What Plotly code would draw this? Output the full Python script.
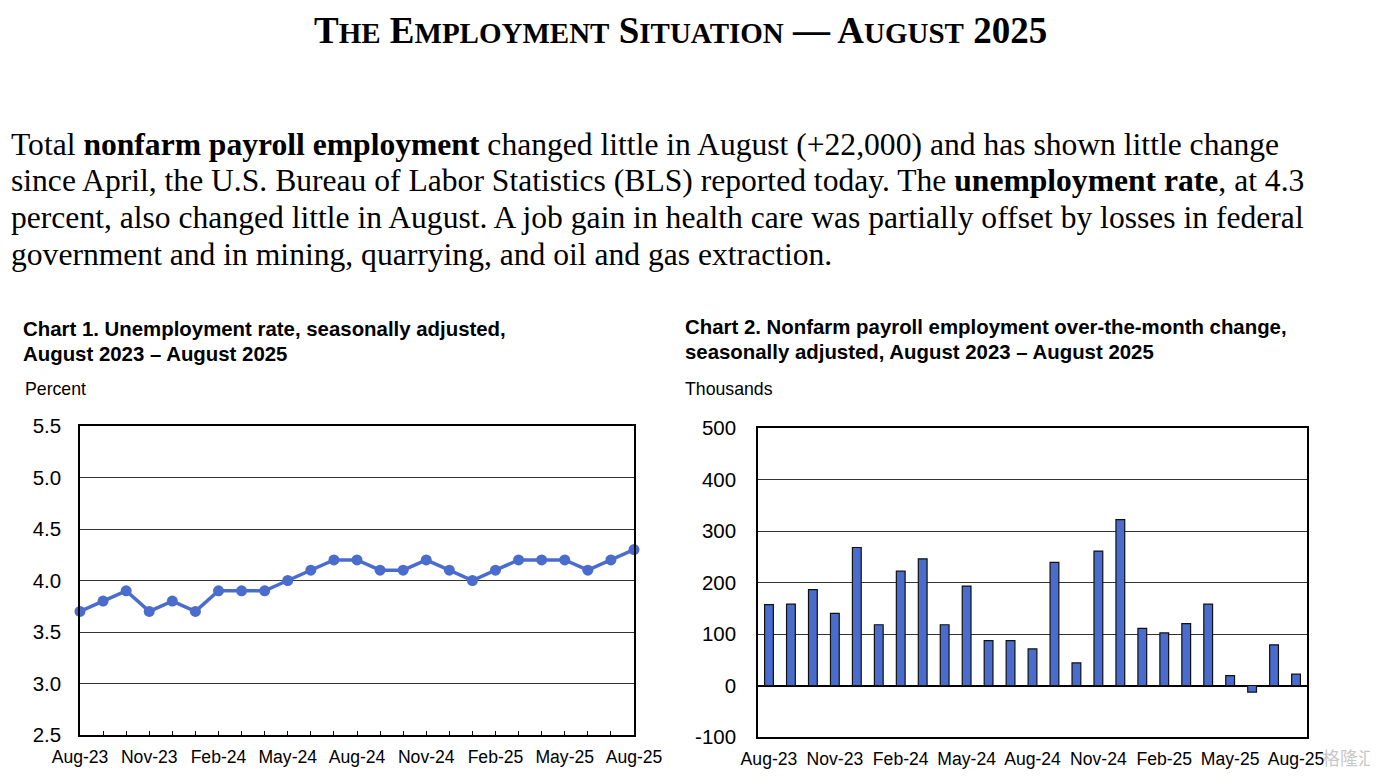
import plotly.graph_objects as go

months = ["Aug-23","Sep-23","Oct-23","Nov-23","Dec-23","Jan-24","Feb-24","Mar-24","Apr-24",
          "May-24","Jun-24","Jul-24","Aug-24","Sep-24","Oct-24","Nov-24","Dec-24","Jan-25",
          "Feb-25","Mar-25","Apr-25","May-25","Jun-25","Jul-25","Aug-25"]
unemployment_rate = [3.7,3.8,3.9,3.7,3.8,3.7,3.9,3.9,3.9,4.0,4.1,4.2,4.2,4.1,4.1,4.2,4.1,4.0,
                     4.1,4.2,4.2,4.2,4.1,4.2,4.3]
payroll_change = [157,158,186,140,268,118,222,246,118,193,87,87,71,239,44,261,322,111,102,
                  120,158,19,-13,79,22]
label_months = months[::3]
rate_ticks = [2.5,3.0,3.5,4.0,4.5,5.0,5.5]
payroll_ticks = [-100,0,100,200,300,400,500]

BLUE = "#4A6DCD"
OFF = 8                      # page body margin in the browser
W, H = 1378 - OFF, 776 - OFF

fig = go.Figure()

idx = list(range(len(months)))
fig.add_trace(go.Scatter(
    x=idx, y=unemployment_rate, mode="lines+markers",
    line=dict(color=BLUE, width=3.5), marker=dict(color=BLUE, size=11),
    xaxis="x", yaxis="y", showlegend=False, cliponaxis=False))

fig.add_trace(go.Bar(
    x=months, y=payroll_change, marker=dict(color=BLUE, line=dict(color="#111", width=1.2)),
    xaxis="x2", yaxis="y2", showlegend=False))

def fx(px):
    return (px - OFF) / W
def fy(py):
    return 1 - (py - OFF) / H

axis_font = dict(family="Liberation Sans, Arial", size=20.5, color="#000")
xfont = dict(family="Liberation Sans, Arial", size=17.6, color="#000")

fig.update_layout(
    template="none",
    width=W, height=H, margin=dict(l=0, r=0, t=0, b=0, pad=0, autoexpand=False),
    paper_bgcolor="white", plot_bgcolor="white", bargap=0.6,
    xaxis=dict(domain=[fx(80), fx(634)], range=[0, 24], automargin=False,
               tickvals=idx, ticktext=[m if i % 3 == 0 else "" for i, m in enumerate(months)],
               ticks="inside", ticklen=4, tickcolor="#000", tickwidth=1,
               ticklabelstandoff=5,
               showgrid=False, showline=True, linecolor="#000", linewidth=1.5, mirror=True,
               tickfont=xfont, anchor="y", zeroline=False),
    yaxis=dict(domain=[fy(735), fy(426)], range=[2.5, 5.5], tickvals=rate_ticks, automargin=False,
               ticktext=[f"{v:.1f}" for v in rate_ticks], showgrid=True,
               gridcolor="#333", gridwidth=1, showline=True, linecolor="#000", linewidth=1.5,
               mirror=True, ticks="outside", ticklen=13, tickcolor="rgba(0,0,0,0)",
               tickfont=axis_font, anchor="x", zeroline=False),
    xaxis2=dict(domain=[fx(758), fx(1307)], type="category", automargin=False,
                tickvals=label_months, ticktext=label_months, showgrid=False,
                showline=True, linecolor="#000", linewidth=1.5, mirror=True,
                ticks="", ticklabelstandoff=5, tickfont=xfont, anchor="y2"),
    yaxis2=dict(domain=[fy(737), fy(428)], range=[-100, 500], tickvals=payroll_ticks,
                ticktext=[str(v) for v in payroll_ticks],
                automargin=False,
                showgrid=True, gridcolor="#333", gridwidth=1, showline=True,
                linecolor="#000", linewidth=1.5, mirror=True, zeroline=True,
                zerolinecolor="#000", zerolinewidth=1.5, ticks="outside", ticklen=16,
                tickcolor="rgba(0,0,0,0)", tickfont=axis_font, anchor="x2"),
)

serif = "Liberation Serif, Times New Roman, serif"
big, small = 37, 29
def sc(word):
    return f"{word[0]}<span style='font-size:{small}px'>{word[1:]}</span>" if len(word) > 1 else word
title = " ".join([sc("THE"), sc("EMPLOYMENT"), sc("SITUATION"), "—", sc("AUGUST"), "2025"])
ann = []
ann.append(dict(text=f"<b>{title}</b>", x=680.5, y=31, xanchor="center",
                font=dict(family=serif, size=big, color="#000")))

para = [
    "Total <b>nonfarm payroll employment</b> changed little in August (+22,000) and has shown little change",
    "since April, the U.S. Bureau of Labor Statistics (BLS) reported today. The <b>unemployment rate</b>, at 4.3",
    "percent, also changed little in August. A job gain in health care was partially offset by losses in federal",
    "government and in mining, quarrying, and oil and gas extraction.",
]
para_y = [144, 181, 217, 254]
for line, py in zip(para, para_y):
    ann.append(dict(text=line, x=9, y=py, font=dict(family=serif, size=31.6, color="#000")))

sans = "Liberation Sans, Arial, sans-serif"
tf = dict(family=sans, size=20.4, color="#000")
ann.append(dict(text="<b>Chart 1. Unemployment rate, seasonally adjusted,</b>", x=21, y=329, font=tf))
ann.append(dict(text="<b>August 2023 – August 2025</b>", x=21, y=354, font=tf))
ann.append(dict(text="Percent", x=23, y=389, font=dict(family=sans, size=17.7, color="#000")))
ann.append(dict(text="<b>Chart 2. Nonfarm payroll employment over-the-month change,</b>", x=683, y=327, font=tf))
ann.append(dict(text="<b>seasonally adjusted, August 2023 – August 2025</b>", x=683, y=352, font=tf))
ann.append(dict(text="Thousands", x=683, y=389, font=dict(family=sans, size=17.7, color="#000")))
ann.append(dict(text="格隆汇", x=1320, y=757,
                font=dict(family="Noto Sans CJK SC", size=18, color="rgba(150,150,150,0.55)")))

final = []
for a in ann:
    final.append(dict(text=a["text"], x=fx(a["x"]), y=fy(a["y"]), xref="paper", yref="paper",
                      xanchor=a.get("xanchor", "left"), yanchor="middle", showarrow=False,
                      font=a["font"], align="left"))
fig.update_layout(annotations=final)

fig.write_html("out.html")
